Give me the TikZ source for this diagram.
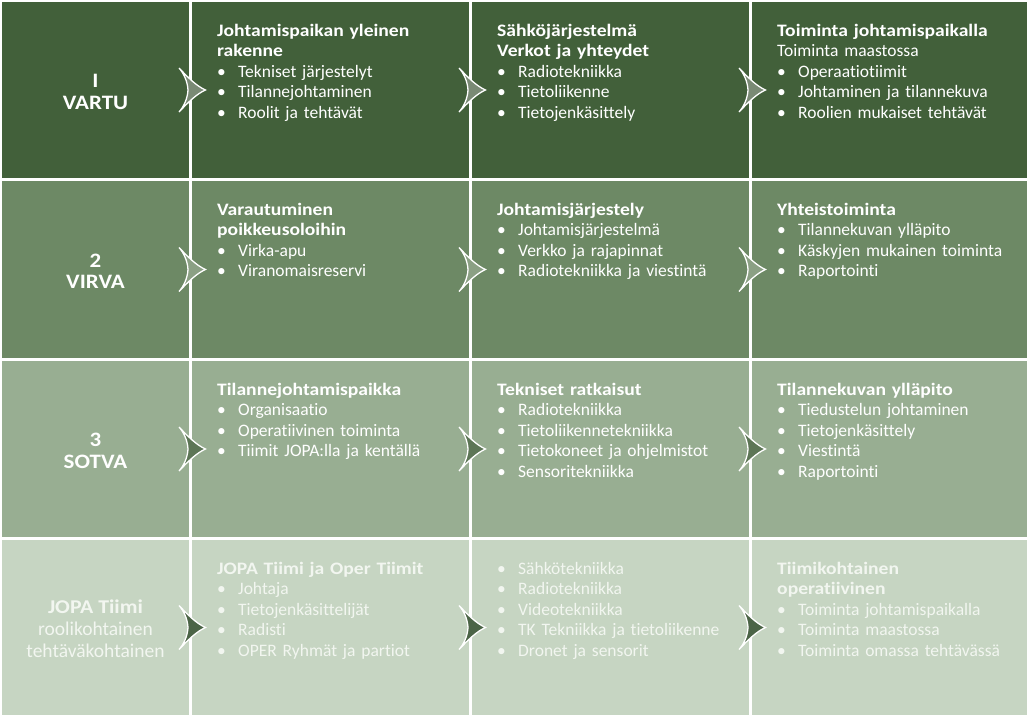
\documentclass[tikz,border=0pt]{standalone}
\usepackage{fontspec}
\setmainfont{Carlito}[Ligatures={NoCommon},BoldFeatures={FakeStretch=1.12}]
\usetikzlibrary{calc}
\definecolor{rA}{HTML}{42603A}
\definecolor{rB}{HTML}{6D8965}
\definecolor{rC}{HTML}{98AE92}
\definecolor{rD}{HTML}{C6D5C2}
\definecolor{chA}{HTML}{7A8A75}
\definecolor{chB}{HTML}{8BA084}
\definecolor{chC}{HTML}{5D7656}
\definecolor{chD}{HTML}{4B6446}
\definecolor{txD}{HTML}{F2F6F0}
\newcommand{\bl}[1]{\makebox[21pt][l]{•}#1}
\newcommand{\fs}{\rule{0pt}{15pt}}
\newcommand{\ls}{\rule{0pt}{16pt}}
\begin{document}
\begin{tikzpicture}[x=1pt,y=-1pt,
  cell/.style={draw=none,inner sep=0pt,outer sep=0pt,anchor=north west},
  txt/.style={anchor=north west,inner sep=0pt,text width=250pt,align=left,text=white,font=\fontsize{17.5}{20.5}\selectfont},
  lbl/.style={anchor=north,inner sep=0pt,align=center,text=white,font=\fontsize{20.5}{21.5}\selectfont\bfseries},
  chev/.pic={\path[pic actions] (-11.5,-22) .. controls (-2,-12) and (6,-4) .. (15,0)
     .. controls (6,4) and (-2,12) .. (-11.5,22)
     .. controls (-7,17) and (-3,9) .. (-2.5,0)
     .. controls (-3,-9) and (-7,-17) .. cycle;}
]
\useasboundingbox (0,0) rectangle (1030,718);
\fill[white] (0,0) rectangle (1030,718);
% cells
\foreach \r/\y/\h/\c in {1/2/176/rA,2/181/177/rB,3/361/176/rC,4/540/175/rD}{
  \foreach \k/\x/\w in {1/2/187,2/192/277,3/472/277,4/752/275}{
    \node[cell,fill=\c,minimum width=\w pt,minimum height=\h pt] (c\r\k) at (\x,\y) {};
  }
}
% left labels
\node[lbl] (l1) at ([yshift=18.5pt]c11.center) {\ls I\\VARTU};
\node[lbl] (l2) at ([yshift=18.5pt]c21.center) {\ls 2\\VIRVA};
\node[lbl] (l3) at ([yshift=18.5pt]c31.center) {\ls 3\\SOTVA};
\node[lbl,text=txD,font=\fontsize{19.5}{22}\selectfont] (l4) at ([yshift=30pt]c41.center) {\ls\textbf{JOPA Tiimi}\\roolikohtainen\\tehtäväkohtainen};
% row 1
\node[txt] (t12) at ([shift={(25pt,-19pt)}]c12.north west) {\fs\textbf{Johtamispaikan yleinen}\\\textbf{rakenne}\\\bl{Tekniset järjestelyt}\\\bl{Tilannejohtaminen}\\\bl{Roolit ja tehtävät}};
\node[txt] (t13) at ([shift={(25pt,-19pt)}]c13.north west) {\fs\textbf{Sähköjärjestelmä}\\\textbf{Verkot ja yhteydet}\\\bl{Radiotekniikka}\\\bl{Tietoliikenne}\\\bl{Tietojenkäsittely}};
\node[txt] (t14) at ([shift={(25pt,-19pt)}]c14.north west) {\fs\textbf{Toiminta johtamispaikalla}\\Toiminta maastossa\\\bl{Operaatiotiimit}\\\bl{Johtaminen ja tilannekuva}\\\bl{Roolien mukaiset tehtävät}};
% row 2
\node[txt] (t22) at ([shift={(25pt,-19pt)}]c22.north west) {\fs\textbf{Varautuminen}\\\textbf{poikkeusoloihin}\\\bl{Virka-apu}\\\bl{Viranomaisreservi}};
\node[txt] (t23) at ([shift={(25pt,-19pt)}]c23.north west) {\fs\textbf{Johtamisjärjestely}\\\bl{Johtamisjärjestelmä}\\\bl{Verkko ja rajapinnat}\\\bl{Radiotekniikka ja viestintä}};
\node[txt] (t24) at ([shift={(25pt,-19pt)}]c24.north west) {\fs\textbf{Yhteistoiminta}\\\bl{Tilannekuvan ylläpito}\\\bl{Käskyjen mukainen toiminta}\\\bl{Raportointi}};
% row 3
\node[txt] (t32) at ([shift={(25pt,-19pt)}]c32.north west) {\fs\textbf{Tilannejohtamispaikka}\\\bl{Organisaatio}\\\bl{Operatiivinen toiminta}\\\bl{Tiimit JOPA:lla ja kentällä}};
\node[txt] (t33) at ([shift={(25pt,-19pt)}]c33.north west) {\fs\textbf{Tekniset ratkaisut}\\\bl{Radiotekniikka}\\\bl{Tietoliikennetekniikka}\\\bl{Tietokoneet ja ohjelmistot}\\\bl{Sensoritekniikka}};
\node[txt] (t34) at ([shift={(25pt,-19pt)}]c34.north west) {\fs\textbf{Tilannekuvan ylläpito}\\\bl{Tiedustelun johtaminen}\\\bl{Tietojenkäsittely}\\\bl{Viestintä}\\\bl{Raportointi}};
% row 4
\node[txt,text=txD] (t42) at ([shift={(25pt,-19pt)}]c42.north west) {\fs\textbf{JOPA Tiimi ja Oper Tiimit}\\\bl{Johtaja}\\\bl{Tietojenkäsittelijät}\\\bl{Radisti}\\\bl{OPER Ryhmät ja partiot}};
\node[txt,text=txD] (t43) at ([shift={(25pt,-19pt)}]c43.north west) {\fs\bl{Sähkötekniikka}\\\bl{Radiotekniikka}\\\bl{Videotekniikka}\\\bl{TK Tekniikka ja tietoliikenne}\\\bl{Dronet ja sensorit}};
\node[txt,text=txD] (t44) at ([shift={(25pt,-19pt)}]c44.north west) {\fs\textbf{Tiimikohtainen}\\\textbf{operatiivinen}\\\bl{Toiminta johtamispaikalla}\\\bl{Toiminta maastossa}\\\bl{Toiminta omassa tehtävässä}};
% chevrons
\foreach \r/\f in {1/chA,2/chB,3/chC,4/chD}{
  \foreach \a/\b in {1/2,2/3,3/4}{
    \pic[draw=white,line width=1.3pt,fill=\f] at ($(c\r\a.east)!0.5!(c\r\b.west)$) {chev};
  }
}
\end{tikzpicture}
\end{document}
